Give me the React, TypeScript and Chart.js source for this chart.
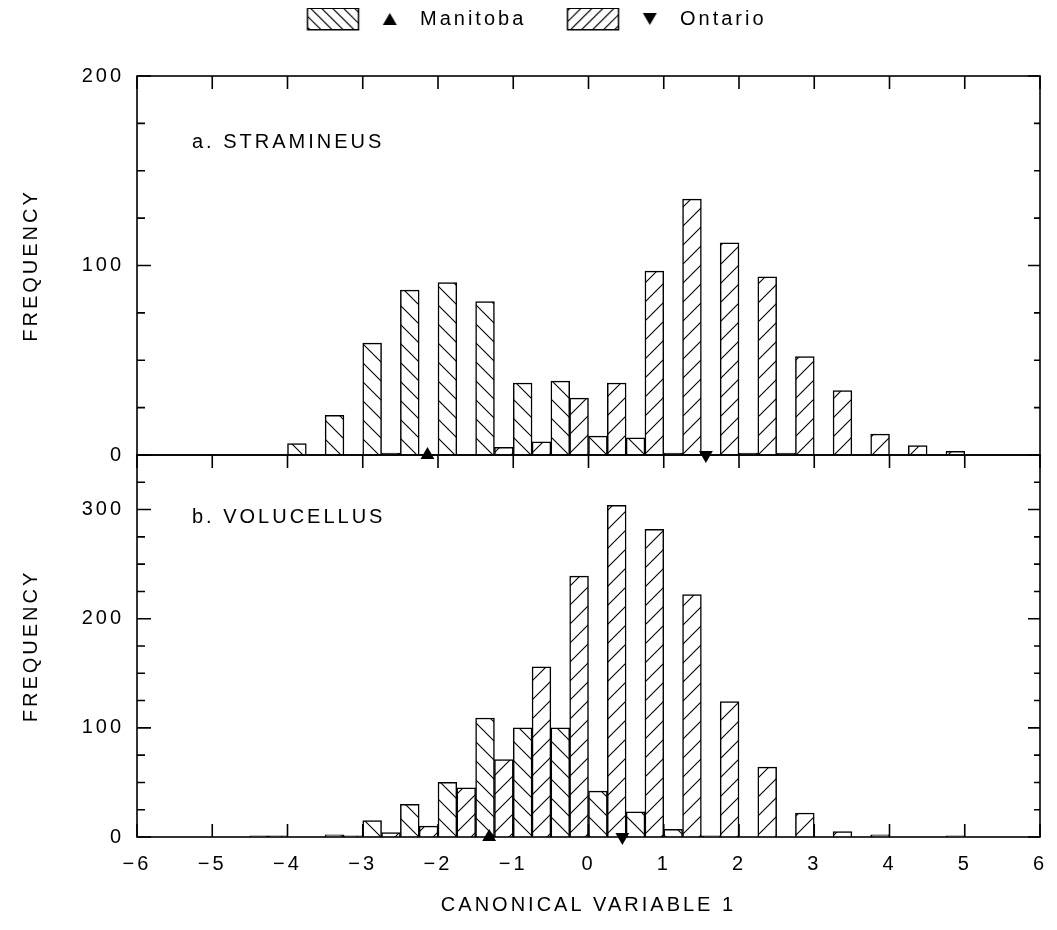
import React, { useEffect, useRef } from 'react';
import { Chart, registerables } from 'chart.js';

Chart.register(...registerables);

// ---------- data ----------
const binStarts = [-5.0, -4.5, -4.0, -3.5, -3.0, -2.5, -2.0, -1.5, -1.0, -0.5, 0.0, 0.5, 1.0, 1.5, 2.0, 2.5, 3.0, 3.5, 4.0, 4.5];
const stramineusManitoba = [0, 0, 6, 21, 59, 87, 91, 81, 38, 39, 10, 9, 1, 0, 1, 1, 0, 0, 0, 0];
const stramineusOntario = [0, 0, 0, 0, 1, 0, 0, 4, 7, 30, 38, 97, 135, 112, 94, 52, 34, 11, 5, 2];
const volucellusManitoba = [0, 1, 0, 2, 15, 30, 50, 109, 100, 100, 42, 23, 7, 1, 0, 0, 0, 0, 0, 0];
const volucellusOntario = [0, 1, 0, 1, 4, 10, 45, 71, 156, 239, 304, 282, 222, 124, 64, 22, 5, 2, 0, 1];
const meanManitoba = [-2.14, -1.32];
const meanOntario = [1.56, 0.45];
const panelTitles = ['a. STRAMINEUS', 'b. VOLUCELLUS'];
const xTickValues = [-6, -5, -4, -3, -2, -1, 0, 1, 2, 3, 4, 5, 6];
const legendNames = ['Manitoba', 'Ontario'];
const xTitle = 'CANONICAL VARIABLE 1';
const yTitle = 'FREQUENCY';

const FONT = "'Liberation Sans', Arial, sans-serif";
const SPACING = '3px';
const W = 1041;
const H = 914;

const SLOT = 0.25;
const NSLOTS = 48;
const slotLabels: string[] = [];
for (let i = 0; i < NSLOTS; i++) slotLabels.push((-6 + SLOT * (i + 0.5)).toFixed(3));

function toSlots(values: number[], shift: number) {
  const arr: (number | null)[] = new Array(NSLOTS).fill(null);
  binStarts.forEach((s, i) => {
    const idx = Math.round((s + 6) / SLOT) + shift;
    arr[idx] = values[i];
  });
  return arr;
}

function hatchPattern(ctx: CanvasRenderingContext2D, dir: 'back' | 'fwd', s: number) {
  const c = document.createElement('canvas');
  c.width = s;
  c.height = s;
  const g = c.getContext('2d')!;
  g.fillStyle = '#fff';
  g.fillRect(0, 0, s, s);
  g.strokeStyle = '#000';
  g.lineWidth = 1.1;
  g.beginPath();
  if (dir === 'back') {
    g.moveTo(-1, -1); g.lineTo(s + 1, s + 1);
    g.moveTo(-1, s - 1); g.lineTo(1, s + 1);
    g.moveTo(s - 1, -1); g.lineTo(s + 1, 1);
  } else {
    g.moveTo(-1, s + 1); g.lineTo(s + 1, -1);
    g.moveTo(-1, 1); g.lineTo(1, -1);
    g.moveTo(s - 1, s + 1); g.lineTo(s + 1, s - 1);
  }
  g.stroke();
  return ctx.createPattern(c, 'repeat')!;
}

function legendImage(dir: 'back' | 'fwd', up: boolean, o: number, wb: number) {
  const c = document.createElement('canvas');
  c.width = Math.ceil(wb);
  c.height = 24;
  const g = c.getContext('2d')!;
  const bx = o + 0.75, by = 1.25, bw = 51, bh = 21.5;
  g.save();
  g.beginPath();
  g.rect(bx, by, bw, bh);
  g.clip();
  g.fillStyle = '#fff';
  g.fillRect(bx, by, bw, bh);
  g.strokeStyle = '#000';
  g.lineWidth = 1.1;
  g.beginPath();
  for (let k = -30; k < 90; k += 11) {
    if (dir === 'back') { g.moveTo(bx + k, by); g.lineTo(bx + k + bh, by + bh); }
    else { g.moveTo(bx + k, by + bh); g.lineTo(bx + k + bh, by); }
  }
  g.stroke();
  g.restore();
  g.lineWidth = 1.5;
  g.strokeStyle = '#000';
  g.strokeRect(bx, by, bw, bh);
  const cx = o + 83, cy = 12;
  g.fillStyle = '#000';
  g.beginPath();
  if (up) { g.moveTo(cx, cy - 6); g.lineTo(cx + 7, cy + 6); g.lineTo(cx - 7, cy + 6); }
  else { g.moveTo(cx, cy + 6); g.lineTo(cx + 7, cy - 6); g.lineTo(cx - 7, cy - 6); }
  g.closePath();
  g.fill();
  return c;
}

const spacingPlugin = {
  id: 'spacing',
  beforeUpdate(chart: any) { chart.ctx.letterSpacing = SPACING; },
  beforeDraw(chart: any) { chart.ctx.letterSpacing = SPACING; },
};

const framePlugin = {
  id: 'frame',
  afterDatasetsDraw(chart: any) {
    const { ctx, chartArea: ca } = chart;
    const xs = chart.scales.xTicks;
    const panels = [chart.scales.yTop, chart.scales.yBot];
    ctx.save();
    ctx.strokeStyle = '#000';
    ctx.lineWidth = 1.6;
    panels.forEach((ys: any, pi: number) => {
      ctx.strokeRect(ca.left, ys.top, ca.right - ca.left, ys.bottom - ys.top);
      ctx.beginPath();
      ys.ticks.forEach((t: any) => {
        const y = ys.getPixelForValue(t.value);
        const major = t.value % 100 === 0;
        ctx.moveTo(ca.left, y); ctx.lineTo(ca.left + (major ? 14 : 8), y);
        ctx.moveTo(ca.right, y); ctx.lineTo(ca.right - (major ? 12 : 6), y);
      });
      xTickValues.forEach((v) => {
        const x = xs.getPixelForValue(v);
        ctx.moveTo(x, ys.top); ctx.lineTo(x, ys.top + 13);
        if (pi === 1) { ctx.moveTo(x, ys.bottom); ctx.lineTo(x, ys.bottom - 13); }
      });
      ctx.stroke();
      ctx.font = `20px ${FONT}`;
      ctx.letterSpacing = SPACING;
      ctx.fillStyle = '#000';
      ctx.textAlign = 'left';
      ctx.textBaseline = 'middle';
      const ty = pi === 0 ? ys.getPixelForValue(165) : ys.getPixelForValue(293);
      ctx.fillText(panelTitles[pi], xs.getPixelForValue(-5.27), ty);
    });
    ctx.restore();
  },
};

export default function App() {
  const ref = useRef<HTMLCanvasElement>(null);
  useEffect(() => {
    const canvas = ref.current!;
    const ctx = canvas.getContext('2d')!;
    const patBack = hatchPattern(ctx, 'back', 19);
    const patFwd = hatchPattern(ctx, 'fwd', 19);

    const m = document.createElement('canvas').getContext('2d')! as any;
    m.font = `20px ${FONT}`;
    m.letterSpacing = SPACING;
    const T1 = m.measureText(legendNames[0]).width;
    const T2 = m.measureText(legendNames[1]).width;
    const padRight = 9;
    const legendW = W - padRight;
    const p = Math.max(2, legendW - 226 - 598 - T1 - T2);
    const o = Math.max(0, 147 - T1 - p);
    const wb = o + 103;
    const imgM = legendImage('back', true, o, wb);
    const imgO = legendImage('fwd', false, o, wb);

    const font = { family: FONT, size: 20 };
    const yAxis = (max: number, weight: number, stackWeight: number) => ({
      type: 'linear',
      position: 'left',
      stack: 'panels',
      stackWeight,
      weight,
      min: 0,
      max,
      grid: { display: false, drawTicks: false },
      border: { display: false },
      ticks: {
        stepSize: 25,
        autoSkip: false,
        padding: 13,
        color: '#000',
        font,
        callback: (v: any) => (v % 100 === 0 ? String(v) : ''),
      },
      title: { display: true, text: yTitle, color: '#000', font, padding: { top: 11, bottom: 0 } },
      afterFit: (s: any) => { s.width = 129; s.paddingTop = 0; s.paddingBottom = 0; },
    });

    const barDs = (label: string, values: number[], shift: number, pat: CanvasPattern, yAxisID: string) => ({
      type: 'bar',
      label,
      data: toSlots(values, shift),
      xAxisID: 'x',
      yAxisID,
      backgroundColor: pat,
      borderColor: '#000',
      borderWidth: 1.5,
      borderSkipped: 'start',
      grouped: false,
      barPercentage: 1,
      categoryPercentage: 1,
    });
    const meanDs = (x: number, yAxisID: string, rot: number) => ({
      type: 'line',
      data: [{ x, y: 0 }],
      xAxisID: 'xTicks',
      yAxisID,
      showLine: false,
      pointStyle: 'triangle',
      pointRadius: 8,
      pointRotation: rot,
      pointBackgroundColor: '#000',
      pointBorderColor: '#000',
      pointBorderWidth: 0,
      clip: false,
      order: -1,
    });

    const chart = new Chart(canvas, {
      type: 'bar',
      data: {
        labels: slotLabels,
        datasets: [
          barDs('Manitoba a', stramineusManitoba, 0, patBack, 'yTop'),
          barDs('Ontario a', stramineusOntario, 1, patFwd, 'yTop'),
          barDs('Manitoba b', volucellusManitoba, 0, patBack, 'yBot'),
          barDs('Ontario b', volucellusOntario, 1, patFwd, 'yBot'),
          meanDs(meanManitoba[0], 'yTop', 0),
          meanDs(meanOntario[0], 'yTop', 180),
          meanDs(meanManitoba[1], 'yBot', 0),
          meanDs(meanOntario[1], 'yBot', 180),
        ] as any,
      },
      options: {
        responsive: false,
        animation: false,
        devicePixelRatio: 1,
        events: [],
        layout: { padding: { top: 1 - p, right: padRight, bottom: 0, left: 0 } },
        plugins: {
          tooltip: { enabled: false },
          legend: {
            display: true,
            position: 'top',
            align: 'center',
            labels: {
              usePointStyle: true,
              pointStyleWidth: wb,
              padding: p,
              color: '#000',
              font,
              generateLabels: () => [
                { text: legendNames[0], pointStyle: imgM as any, fillStyle: 'rgba(0,0,0,0)', strokeStyle: 'rgba(0,0,0,0)', lineWidth: 0, hidden: false, datasetIndex: 0, fontColor: '#000' },
                { text: legendNames[1], pointStyle: imgO as any, fillStyle: 'rgba(0,0,0,0)', strokeStyle: 'rgba(0,0,0,0)', lineWidth: 0, hidden: false, datasetIndex: 1, fontColor: '#000' },
              ] as any,
            },
          },
        },
        scales: {
          x: {
            type: 'category',
            labels: slotLabels,
            position: 'top',
            offset: true,
            grid: { display: false, drawTicks: false },
            border: { display: false },
            ticks: { display: false },
            afterFit: (s: any) => { s.height = 37; s.paddingLeft = 0; s.paddingRight = 0; },
          },
          xTicks: {
            type: 'linear',
            position: 'bottom',
            offset: false,
            min: -6,
            max: 6,
            grid: { display: false, drawTicks: false, offset: false },
            border: { display: false },
            ticks: {
              stepSize: 1,
              autoSkip: false,
              maxRotation: 0,
              padding: 15,
              color: '#000',
              font,
              callback: (v: any) => (v < 0 ? '\u2212' + Math.abs(v) : String(v)),
            },
            title: { display: true, text: xTitle, color: '#000', font, padding: { top: 0, bottom: 5 } },
            afterFit: (s: any) => { s.height = 85; s.paddingLeft = 0; s.paddingRight = 0; },
          },
          yBot: yAxis(350, 0, 382),
          yTop: yAxis(200, 1, 379),
        } as any,
      },
      plugins: [spacingPlugin, framePlugin],
    });
    return () => chart.destroy();
  }, []);
  return (
    <div style={{ width: W, height: H }}>
      <canvas ref={ref} width={W} height={H} style={{ display: 'block' }} />
    </div>
  );
}
